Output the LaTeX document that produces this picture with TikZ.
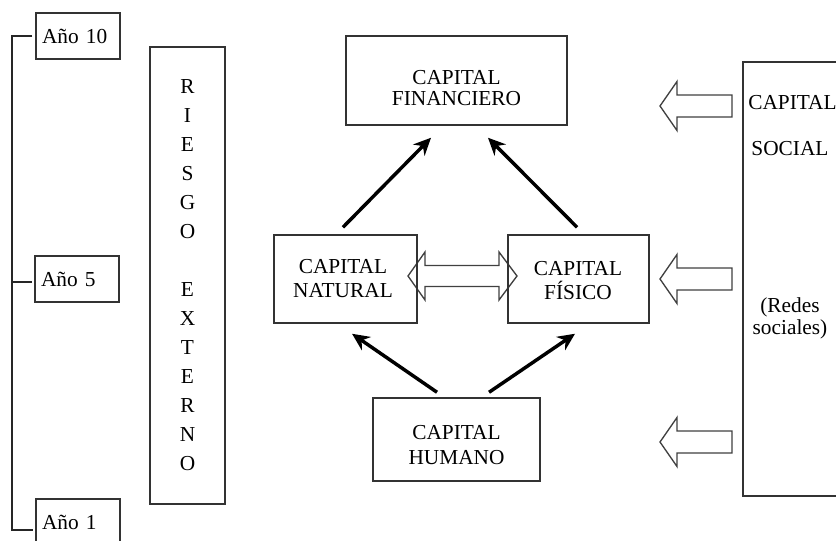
\documentclass[tikz,border=0pt]{standalone}
\usepackage{fontspec}
\setmainfont{Liberation Serif}
\usetikzlibrary{arrows.meta}
\begin{document}
\begin{tikzpicture}[x=0.75pt,y=-0.75pt,
  box/.style={draw=black!80, line width=1.1pt, rectangle, inner sep=0pt},
  txt/.style={align=center, inner sep=0pt, font=\fontsize{16}{18}\selectfont},
  yr/.style={box, text width=54pt, inner xsep=4.5pt, inner ysep=0pt, minimum height=34.5pt, align=left, font=\fontsize{16}{18}\selectfont},
  arr/.style={line width=2.6pt, -{Stealth[length=13pt,width=12pt]}},
  blk/.style={draw=black!75, line width=1pt, fill=white, line join=miter},
  brk/.style={draw=black!85, line width=1.2pt}]
\useasboundingbox (0,0) rectangle (836,540);
\clip (0,0) rectangle (836,540);

% year boxes and bracket
\node[yr] (y10) at (78,36) {Año 10};
\node[yr] (y5) at (77,279) {Año 5};
\node[yr] (y1) at (78,522) {Año 1};
\draw[brk] ([xshift=-2.25pt]y10.west) -- (12,36) -- (12,530) -- (33,530);
\draw[brk] (12,282) -- ([xshift=-1.5pt,yshift=-2.25pt]y5.west);

% riesgo externo
\node[box, minimum width=56.25pt, minimum height=342.75pt, align=center,
      font=\fontsize{16}{21.75}\selectfont] (riesgo) at (187.5,275.5)
  {R\\I\\E\\S\\G\\O\\\mbox{}\\E\\X\\T\\E\\R\\N\\O};

% double block arrow between natural and fisico
\draw[blk] (408,276) -- (425,252) -- (425,265.5) -- (499,265.5) -- (499,252)
  -- (517,276) -- (499,300) -- (499,286.5) -- (425,286.5) -- (425,300) -- cycle;

% capital boxes
\node[box, minimum width=165.75pt, minimum height=66.75pt] (fin) at (456.5,80.5) {};
\node[txt, font=\fontsize{16}{15.2}\selectfont] (fintxt) at (456.5,88) {CAPITAL\\FINANCIERO};

\node[box, minimum width=107.25pt, minimum height=66pt] (nat) at (345.5,279) {};
\node[txt] (nattxt) at (343,279) {CAPITAL\\NATURAL};

\node[box, minimum width=105.75pt, minimum height=66pt] (fis) at (578.5,279) {};
\node[txt] (fistxt) at (578,281) {CAPITAL\\FÍSICO};

\node[box, minimum width=125.25pt, minimum height=62.25pt] (hum) at (456.5,439.5) {};
\node[txt, font=\fontsize{16}{18.75}\selectfont] (humtxt) at (456.5,445) {CAPITAL\\HUMANO};

% capital social
\node[box, minimum width=75pt, minimum height=325.5pt] (soc) at (793,279) {};
\node[txt, anchor=base] (soc1) at (792.5,109) {CAPITAL};
\node[txt, anchor=base] (soc2) at (790,155) {SOCIAL};
\node[txt, anchor=base] (soc3) at (790,312) {(Redes};
\node[txt, anchor=base] (soc4) at (790,334) {sociales)};

% left block arrows
\foreach \y in {106,279,442}{
  \draw[blk] (660,\y) -- (677,{\y-24.5}) -- (677,{\y-11}) -- (732,{\y-11})
    -- (732,{\y+11}) -- (677,{\y+11}) -- (677,{\y+24.5}) -- cycle;
}

% arrows
\draw[arr] ([xshift=-1.9pt,yshift=5.25pt]nat.north) -- ([xshift=-19.1pt,yshift=-9pt]fin.south);
\draw[arr] ([xshift=-1.1pt,yshift=5.25pt]fis.north) -- ([xshift=23.6pt,yshift=-9pt]fin.south);
\draw[arr] ([xshift=-14.6pt,yshift=3.75pt]hum.north) -- ([xshift=4.9pt,yshift=-7.5pt]nat.south);
\draw[arr] ([xshift=24.4pt,yshift=3.75pt]hum.north) -- ([xshift=-2.6pt,yshift=-7.5pt]fis.south);
\end{tikzpicture}
\end{document}
